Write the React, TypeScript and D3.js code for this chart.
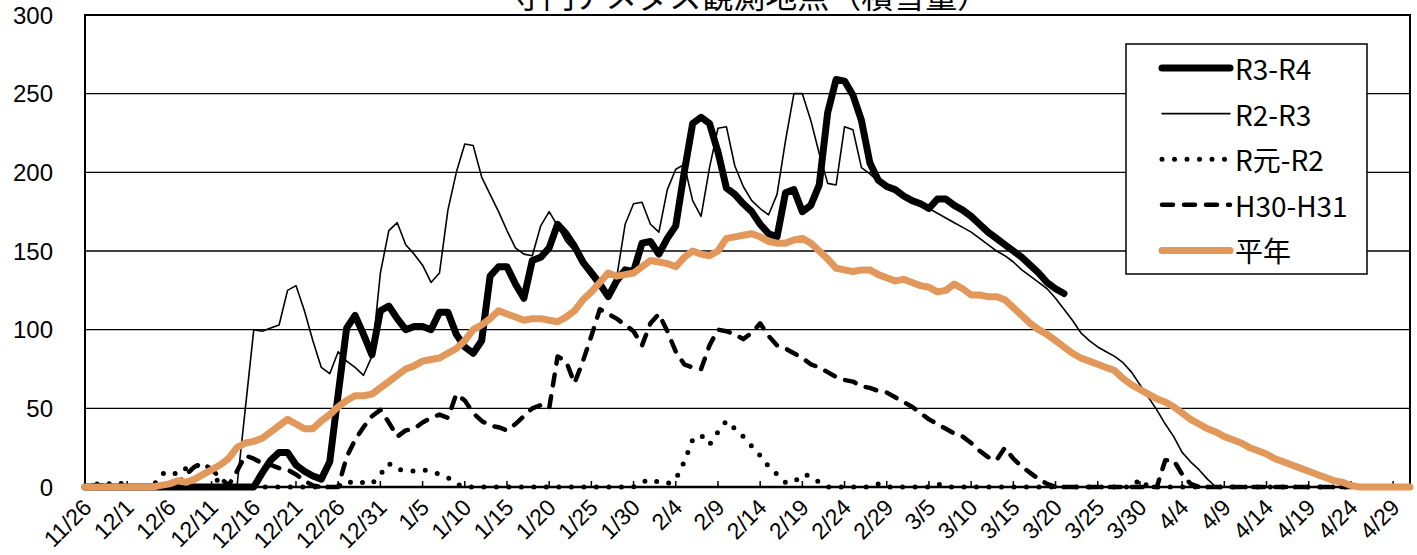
import React from 'react';
import * as d3 from 'd3';

// categories: every day from 11/26 to 5/1 (leap-year template, 2/29 included)
const categories = d3.timeDay
  .range(new Date(2019, 10, 26), new Date(2020, 4, 2))
  .map(d => `${d.getMonth() + 1}/${d.getDate()}`);
const labelEvery = 5;
const yTicks = [0, 50, 100, 150, 200, 250, 300];

const title = '守門アメダス観測地点（積雪量）';

// snow depth (cm), one value per day from 11/26
const r3r4 = [
  0, 0, 0, 0, 0, 0, 0, 0, 0, 0,
  0, 0, 0, 0, 0, 0, 0, 0, 0, 0,
  0, 9, 17, 22, 22, 14, 10, 7, 5, 16,
  59, 101, 109, 97, 84, 112, 115, 107, 100, 102,
  102, 100, 111, 111, 97, 89, 85, 93, 134, 140,
  140, 129, 120, 144, 146, 152, 167, 161, 153, 143,
  136, 129, 121, 131, 138, 137, 155, 156, 148, 158,
  166, 200, 231, 235, 231, 213, 190, 186, 180, 175,
  167, 161, 159, 187, 189, 175, 179, 192, 238, 259,
  258, 249, 233, 206, 195, 191, 189, 185, 182, 180,
  177, 183, 183, 179, 176, 172, 167, 162, 158, 154,
  150, 146, 141, 136, 130, 126, 123,
];

const r2r3 = [
  0, 2, 2, 0, 0, 0, 0, 0, 0, 0,
  0, 0, 0, 0, 0, 0, 0, 0, 0, 50,
  100, 99, 101, 103, 125, 128, 112, 93, 76, 72,
  86, 80, 76, 71, 83, 136, 163, 168, 154, 148,
  141, 130, 136, 176, 200, 218, 217, 197, 186, 175,
  163, 152, 148, 147, 166, 175, 166, 156, 150, 144,
  139, 132, 123, 133, 167, 180, 181, 167, 162, 189,
  202, 205, 182, 172, 203, 228, 229, 204, 191, 182,
  177, 173, 186, 220, 250, 250, 233, 212, 193, 192,
  229, 227, 203, 199, 194, 191, 189, 185, 182, 180,
  177, 174, 171, 168, 165, 162, 158, 154, 150, 147,
  143, 138, 134, 130, 126, 120, 113, 106, 98, 93,
  89, 86, 83, 79, 73, 65, 57, 49, 40, 32,
  22, 16, 11, 5, 0, 0, 0, 0, 0, 0,
  0, 0, 0, 0, 0, 0, 0, 0, 0, 0,
  0, 0, 0, 0, 0, 0, 0, 0,
];

const rGanR2 = [
  0, 1, 3, 2, 3, 0, 0, 0, 0, 8,
  10, 8, 12, 14, 12, 7, 3, 0, 0, 0,
  0, 0, 0, 0, 0, 0, 0, 0, 0, 0,
  0, 4, 2, 3, 2, 8, 15, 11, 11, 10,
  11, 10, 8, 6, 2, 0, 0, 0, 0, 0,
  0, 0, 0, 0, 0, 0, 0, 0, 0, 0,
  0, 0, 0, 0, 0, 0, 3, 5, 3, 2,
  5, 16, 30, 33, 27, 35, 42, 37, 32, 26,
  20, 13, 8, 3, 3, 8, 7, 3, 0, 0,
  0, 0, 0, 0, 2, 0, 0, 0, 0, 0,
  0, 2, 0, 0, 0, 0, 0, 0, 0, 0,
  0, 0, 0, 0, 0, 0, 0, 0, 0, 0,
  0, 0, 0, 0, 0, 5, 0, 0, 0, 0,
  0, 0, 0, 0, 0, 0, 0, 0, 0, 0,
  0, 0, 0, 0, 0, 0, 0, 0, 0, 0,
  0, 0, 0, 0, 0, 0, 0, 0,
];

const h30h31 = [
  0, 0, 0, 0, 0, 0, 0, 0, 0, 0,
  0, 2, 8, 13, 15, 11, 6, 1, 10, 20,
  18, 15, 14, 12, 11, 8, 4, 1, 0, 0,
  0, 19, 30, 38, 45, 49, 41, 32, 36, 37,
  41, 44, 46, 44, 59, 55, 47, 42, 39, 38,
  36, 40, 45, 50, 52, 50, 83, 80, 66, 80,
  96, 113, 110, 107, 103, 99, 90, 104, 110, 99,
  86, 78, 76, 75, 90, 100, 99, 97, 94, 98,
  104, 96, 90, 88, 85, 82, 78, 76, 73, 70,
  68, 67, 64, 63, 61, 60, 57, 54, 51, 47,
  43, 40, 37, 34, 32, 28, 23, 19, 17, 25,
  18, 13, 9, 5, 2, 0, 0, 0, 0, 0,
  0, 0, 0, 0, 0, 0, 0, 0, 17, 17,
  8, 2, 0, 0, 0, 0, 0, 0, 0, 0,
  0, 0, 0, 0, 0, 0, 0, 0, 0, 0,
  0, 0, 0, 0, 0, 0, 0, 0,
];

const heinen = [
  0, 0, 0, 0, 0, 0, 0, 0, 0, 1,
  2, 4, 3, 5, 8, 11, 14, 18, 25, 28,
  29, 31, 35, 39, 43, 40, 37, 37, 42, 46,
  51, 55, 58, 58, 59, 63, 67, 71, 75, 77,
  80, 81, 82, 85, 88, 93, 100, 103, 107, 112,
  110, 108, 106, 107, 107, 106, 105, 108, 112, 119,
  124, 130, 136, 134, 135, 136, 140, 144, 143, 142,
  140, 146, 150, 148, 147, 150, 158, 159, 160, 161,
  159, 156, 155, 155, 157, 158, 155, 150, 145, 139,
  138, 137, 138, 138, 135, 133, 131, 132, 130, 128,
  127, 124, 125, 129, 126, 122, 122, 121, 121, 119,
  114, 109, 104, 100, 97, 93, 89, 85, 82, 80,
  78, 76, 74, 69, 65, 62, 59, 56, 54, 51,
  47, 43, 40, 37, 35, 32, 30, 28, 25, 23,
  21, 18, 16, 14, 12, 10, 8, 6, 4, 3,
  1, 0, 0, 0, 0, 0, 0, 0,
];

type Series = {
  name: string;
  values: number[];
  color: string;
  width: number;
  dash?: string;
  cap: 'round' | 'butt';
};

const ORANGE = '#E2985B';

const series: Series[] = [
  { name: 'R3-R4', values: r3r4, color: '#000', width: 7, cap: 'round' },
  { name: 'R2-R3', values: r2r3, color: '#000', width: 1.6, cap: 'round' },
  { name: 'R元-R2', values: rGanR2, color: '#000', width: 5, dash: '0 12.5', cap: 'round' },
  { name: 'H30-H31', values: h30h31, color: '#000', width: 4.5, dash: '11 11', cap: 'round' },
  { name: '平年', values: heinen, color: ORANGE, width: 7, cap: 'round' },
];

const W = 1417;
const H = 555;
const plot = { left: 85, right: 1410, top: 15, bottom: 487 };

const App: React.FC = () => {
  const x = d3.scaleLinear().domain([0, categories.length - 1]).range([plot.left, plot.right]);
  const y = d3.scaleLinear().domain([0, 300]).range([plot.bottom, plot.top]);

  const line = d3.line<number>()
    .x((_, i) => x(i))
    .y(d => y(d));

  const labelIdx = categories.map((_, i) => i).filter(i => i % labelEvery === 0);

  const legend = { x: 1126, y: 44, w: 241, h: 230, row0: 68, rowGap: 45.6 };

  return (
    <svg width={W} height={H} style={{ position: 'absolute', left: 0, top: 0, background: '#fff' }}>
      <rect width={W} height={H} fill="#fff" />

      {/* title, clipped by the top edge as in the source */}
      <text x={750} y={8} textAnchor="middle" fontFamily="'Noto Sans CJK JP'" fontSize={32} fill="#000">
        {title}
      </text>

      {/* gridlines */}
      {yTicks.filter(t => t > 0 && t < 300).map(t => (
        <line key={t} x1={plot.left} x2={plot.right} y1={y(t)} y2={y(t)} stroke="#000" strokeWidth={1.4} />
      ))}

      {/* plot frame */}
      <rect x={plot.left} y={plot.top} width={plot.right - plot.left} height={plot.bottom - plot.top}
        fill="none" stroke="#000" strokeWidth={2} />
      <line x1={plot.left} x2={plot.right} y1={plot.bottom} y2={plot.bottom} stroke="#000" strokeWidth={2.5} />

      {/* x ticks (inside) */}
      {labelIdx.map(i => (
        <line key={i} x1={x(i)} x2={x(i)} y1={plot.bottom} y2={plot.bottom - 6} stroke="#000" strokeWidth={1.5} />
      ))}

      {/* y labels */}
      {yTicks.map(t => (
        <text key={t} x={53} y={y(t)} textAnchor="end" dominantBaseline="central"
          fontFamily="'Liberation Sans', Arial, sans-serif" fontSize={24} fill="#000">
          {t}
        </text>
      ))}

      {/* x labels */}
      {labelIdx.map(i => (
        <text key={i} transform={`translate(${x(i) + 8},${509}) rotate(-45)`} textAnchor="end"
          fontFamily="'Liberation Sans', Arial, sans-serif" fontSize={23} fill="#000">
          {categories[i]}
        </text>
      ))}

      {/* series */}
      {series.map(s => (
        <path key={s.name} d={line(s.values) || ''} fill="none" stroke={s.color} strokeWidth={s.width}
          strokeDasharray={s.dash} strokeLinecap={s.cap} strokeLinejoin="round" />
      ))}

      {/* legend */}
      <rect x={legend.x} y={legend.y} width={legend.w} height={legend.h} fill="#fff" stroke="#000" strokeWidth={1.5} />
      {series.map((s, k) => {
        const ly = legend.row0 + k * legend.rowGap;
        return (
          <g key={s.name}>
            <line x1={1162} x2={1230} y1={ly} y2={ly} stroke={s.color} strokeWidth={s.width}
              strokeDasharray={s.dash} strokeLinecap={s.cap} />
            <text x={1235} y={ly} dominantBaseline="central" fontFamily="'Noto Sans CJK JP'" fontSize={28} fill="#000">
              {s.name}
            </text>
          </g>
        );
      })}
    </svg>
  );
};

export default App;
